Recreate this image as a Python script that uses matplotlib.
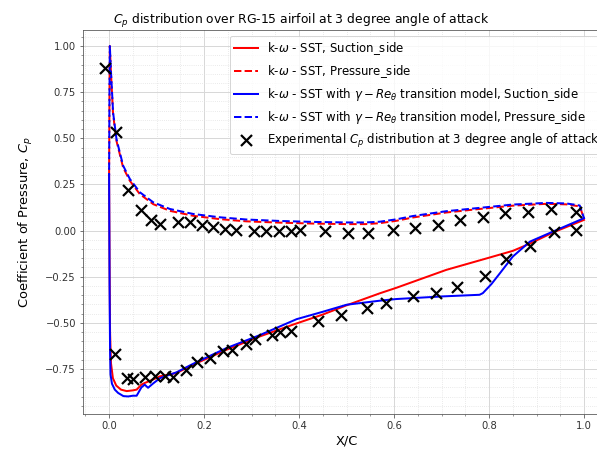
import matplotlib
matplotlib.use("Agg")
import matplotlib.pyplot as plt
from matplotlib.ticker import MultipleLocator

# k-omega SST, pressure side
sst_ps_x = [0.0, 0.0008, 0.0015, 0.004, 0.0084, 0.0156, 0.0295, 0.0436, 0.0646, 0.093, 0.128, 0.177,
            0.233, 0.289, 0.36, 0.429, 0.50, 0.54, 0.57, 0.605, 0.64, 0.71, 0.78, 0.85, 0.921, 0.963, 0.991, 1.0]
sst_ps_y = [0.3, 0.75, 1.0, 0.85, 0.63, 0.485, 0.342, 0.27, 0.198, 0.143, 0.107, 0.08,
            0.062, 0.05, 0.043, 0.038, 0.035, 0.035, 0.040, 0.053, 0.071, 0.098, 0.117, 0.135, 0.145, 0.142, 0.131, 0.065]

# k-omega SST, suction side
sst_ss_x = [0.0, 0.001, 0.002, 0.004, 0.008, 0.015, 0.025, 0.037, 0.05, 0.058, 0.068, 0.075, 0.09, 0.107,
            0.142, 0.177, 0.247, 0.317, 0.387, 0.45, 0.5, 0.57, 0.605, 0.71, 0.8, 0.85, 0.885, 0.935, 1.0]
sst_ss_y = [0.3, -0.2, -0.55, -0.72, -0.8, -0.84, -0.862, -0.87, -0.866, -0.862, -0.835, -0.826, -0.81, -0.79,
            -0.772, -0.727, -0.646, -0.574, -0.51, -0.455, -0.405, -0.34, -0.31, -0.213, -0.147, -0.11, -0.072, -0.01, 0.058]

# k-omega SST + gamma-Re_theta transition, pressure side
tr_ps_x = sst_ps_x
tr_ps_y = [0.3, 0.75, 1.0, 0.86, 0.64, 0.495, 0.352, 0.28, 0.208, 0.153, 0.117, 0.09,
           0.072, 0.06, 0.052, 0.047, 0.044, 0.044, 0.048, 0.061, 0.079, 0.105, 0.123, 0.141, 0.15, 0.147, 0.136, 0.067]

# k-omega SST + gamma-Re_theta transition, suction side
tr_ss_x = [0.0, 0.001, 0.002, 0.003, 0.006, 0.012, 0.019, 0.03, 0.04, 0.05, 0.058, 0.068, 0.075, 0.082,
           0.092, 0.107, 0.142, 0.177, 0.247, 0.317, 0.395, 0.45, 0.5, 0.57, 0.605, 0.7, 0.78, 0.787,
           0.805, 0.823, 0.85, 0.886, 0.935, 1.0]
tr_ss_y = [0.3, -0.3, -0.65, -0.78, -0.83, -0.862, -0.88, -0.897, -0.899, -0.895, -0.895, -0.85, -0.835, -0.852,
           -0.83, -0.80, -0.768, -0.722, -0.637, -0.567, -0.48, -0.44, -0.402, -0.38, -0.371, -0.357, -0.348, -0.339,
           -0.29, -0.231, -0.141, -0.06, -0.005, 0.067]

# experimental data
exp_x = [-0.009, 0.014, 0.04, 0.068, 0.089, 0.107, 0.145, 0.17, 0.195, 0.219, 0.244, 0.268, 0.305, 0.331,
         0.357, 0.382, 0.403, 0.454, 0.503, 0.545, 0.598, 0.644, 0.693, 0.738, 0.787, 0.833, 0.882, 0.931, 0.984,
         0.012, 0.037, 0.051, 0.075, 0.096, 0.117, 0.135, 0.161, 0.186, 0.212, 0.24, 0.258, 0.288, 0.307,
         0.342, 0.359, 0.384, 0.44, 0.489, 0.542, 0.584, 0.64, 0.689, 0.733, 0.791, 0.835, 0.886, 0.936, 0.984]
exp_y = [0.88, 0.534, 0.22, 0.112, 0.058, 0.035, 0.049, 0.049, 0.031, 0.022, 0.009, 0.004, -0.003, -0.003,
         -0.003, 0.0, 0.003, -0.005, -0.014, -0.014, 0.004, 0.016, 0.031, 0.058, 0.076, 0.094, 0.1, 0.116, 0.103,
         -0.669, -0.799, -0.803, -0.794, -0.79, -0.787, -0.794, -0.758, -0.713, -0.691, -0.655, -0.646, -0.616, -0.588,
         -0.565, -0.552, -0.543, -0.489, -0.46, -0.42, -0.395, -0.357, -0.336, -0.306, -0.244, -0.153, -0.081, -0.009, 0.004]

fig = plt.figure(figsize=(597 / 72, 458 / 72), dpi=72)
ax = fig.add_axes([0.139, 0.0961, 0.883, 0.8384])

ax.plot(sst_ss_x, sst_ss_y, color="red", lw=2, label=r"k-$\omega$ - SST, Suction_side")
ax.plot(sst_ps_x, sst_ps_y, color="red", lw=2, ls="--", label=r"k-$\omega$ - SST, Pressure_side")
ax.plot(tr_ss_x, tr_ss_y, color="blue", lw=2,
        label=r"k-$\omega$ - SST with $\gamma-Re_\theta$ transition model, Suction_side")
ax.plot(tr_ps_x, tr_ps_y, color="blue", lw=2, ls=(2.6, (3.7, 1.6)),
        label=r"k-$\omega$ - SST with $\gamma-Re_\theta$ transition model, Pressure_side")
ax.plot(exp_x, exp_y, ls="none", marker="x", color="black", markersize=11, mew=2.2,
        label=r"Experimental $C_p$ distribution at 3 degree angle of attack")

ax.set_xlim(-0.055, 1.055)
ax.set_ylim(-0.994, 1.087)
ax.xaxis.set_major_locator(MultipleLocator(0.2))
ax.xaxis.set_minor_locator(MultipleLocator(0.05))
ax.yaxis.set_major_locator(MultipleLocator(0.25))
ax.yaxis.set_minor_locator(MultipleLocator(0.05))
ax.grid(which="major", color="#d8d8d8", lw=1)
ax.grid(which="minor", color="#e0e0e0", lw=0.8, ls=":")
ax.set_axisbelow(True)
for s in ax.spines.values():
    s.set_color("#555555")
ax.tick_params(which="both", colors="#555555", labelcolor="#333333")

# title sits left of the axes centre in the reference
ax.set_title(r"$C_p$ distribution over RG-15 airfoil at 3 degree angle of attack", fontsize=12.4, x=0.4146)
ax.set_xlabel("X/C", fontsize=13)
ax.set_ylabel(r"Coefficient of Pressure, $C_p$", fontsize=13, labelpad=10)
leg = ax.legend(loc="upper right", fontsize=11.7)
leg.get_lines()[3].set_linestyle("--")

fig.savefig("out.png", dpi=72)
